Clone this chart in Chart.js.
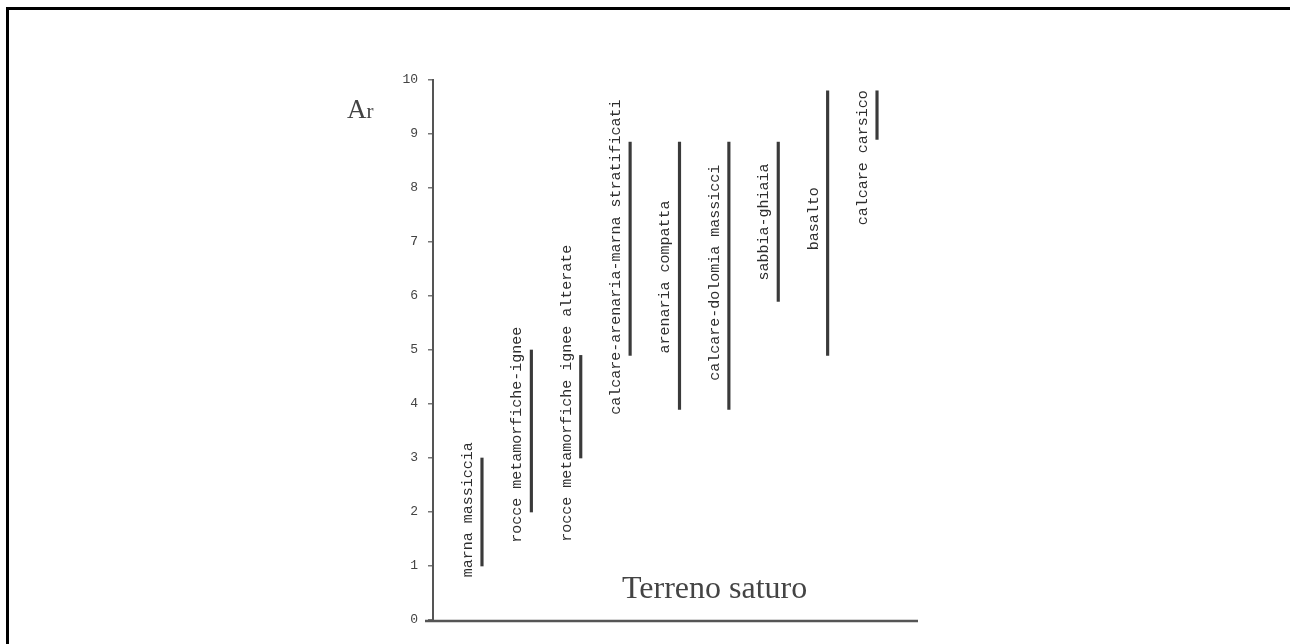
<!DOCTYPE html>
<html>
<head>
<meta charset="utf-8">
<script src="https://cdn.jsdelivr.net/npm/chart.js@4.4.1/dist/chart.umd.min.js"></script>
<style>
  html, body { margin: 0; padding: 0; background: #fff; }
  #wrap { position: relative; width: 1290px; height: 644px; overflow: hidden; }
  #c { position: absolute; left: 0; top: 0; }
  #frame { position: absolute; left: 6px; top: 7px; right: -10px; bottom: -10px;
           border-top: 3px solid #000; border-left: 3px solid #000; pointer-events: none; }
</style>
</head>
<body>
<div id="wrap">
  <canvas id="c" width="1290" height="644"></canvas>
  <div id="frame"></div>
</div>
<script>
// ---- data ----
const categories = [
  'marna massiccia',
  'rocce metamorfiche-ignee',
  'rocce metamorfiche ignee alterate',
  'calcare-arenaria-marna stratificati',
  'arenaria compatta',
  'calcare-dolomia massicci',
  'sabbia-ghiaia',
  'basalto',
  'calcare carsico'
];
const rangeLow  = [1, 2, 3, 4.9, 3.9, 3.9, 5.9, 4.9, 8.9];
const rangeHigh = [3, 5, 4.9, 8.85, 8.85, 8.85, 8.85, 9.8, 9.8];
// value (Ar) at which each rotated label is centred
const labelMid  = [2.04, 3.43, 4.2, 6.72, 6.35, 6.43, 7.37, 7.43, 8.56];
const yTickLabels = ['0','1','2','3','4','5','6','7','8','9','10'];
const yAxisTitle = 'A';
const yAxisTitleSub = 'r';
const xAxisTitle = 'Terreno saturo';

const barData = categories.map((c, i) => ({ x: i, y: [rangeLow[i], rangeHigh[i]] }));

const decor = {
  id: 'decor',
  afterDatasetsDraw(chart) {
    const ctx = chart.ctx;
    const ca = chart.chartArea;
    const xs = chart.scales.x, ys = chart.scales.y;
    ctx.save();
    // x axis line
    ctx.strokeStyle = '#555';
    ctx.lineWidth = 2.5;
    ctx.beginPath();
    ctx.moveTo(ca.left - 8, ca.bottom + 1);
    ctx.lineTo(ca.right, ca.bottom + 1);
    ctx.stroke();
    // rotated category labels
    ctx.fillStyle = '#2e2e2e';
    ctx.font = '15px "Liberation Mono", "DejaVu Sans Mono", monospace';
    ctx.textAlign = 'center';
    ctx.textBaseline = 'middle';
    categories.forEach((c, i) => {
      const px = xs.getPixelForValue(i) - 14;
      const py = ys.getPixelForValue(labelMid[i]);
      ctx.save();
      ctx.translate(px, py);
      ctx.rotate(-Math.PI / 2);
      ctx.fillText(c, 0, 0);
      ctx.restore();
    });
    // axis titles
    ctx.textAlign = 'left';
    ctx.textBaseline = 'alphabetic';
    ctx.fillStyle = '#444';
    ctx.font = '27px "Liberation Serif", "DejaVu Serif", serif';
    const ax = ca.left - 86, ay = ca.top + 38;
    ctx.fillText(yAxisTitle, ax, ay);
    const aw = ctx.measureText(yAxisTitle).width;
    ctx.font = '21px "Liberation Serif", "DejaVu Serif", serif';
    ctx.fillText(yAxisTitleSub, ax + aw, ay);
    ctx.font = '32px "Liberation Serif", "DejaVu Serif", serif';
    ctx.fillText(xAxisTitle, ca.left + 189, ca.bottom - 22);
    ctx.restore();
  }
};

new Chart(document.getElementById('c'), {
  type: 'bar',
  data: {
    datasets: [{
      data: barData,
      backgroundColor: '#3a3a3a',
      borderWidth: 0,
      barThickness: 2.5
    }]
  },
  options: {
    responsive: false,
    animation: false,
    devicePixelRatio: 1,
    layout: { padding: { top: 80, bottom: 24, left: 0, right: 372 } },
    plugins: { legend: { display: false }, tooltip: { enabled: false } },
    scales: {
      x: {
        type: 'linear',
        display: false,
        offset: false,
        grid: { offset: false },
        min: -0.992,
        max: 8.83
      },
      y: {
        type: 'linear',
        min: 0,
        max: 10,
        afterFit(scale) { scale.width = 433; },
        border: { display: true, color: '#555', width: 2 },
        grid: { drawOnChartArea: false, drawTicks: true, tickLength: 5, color: '#777', lineWidth: 1.5 },
        ticks: {
          stepSize: 1,
          padding: 10,
          color: '#444',
          font: { family: '"Liberation Mono", "DejaVu Sans Mono", monospace', size: 13 },
          callback: (v) => yTickLabels[v] !== undefined ? yTickLabels[v] : ''
        }
      }
    }
  },
  plugins: [decor]
});
</script>
</body>
</html>
